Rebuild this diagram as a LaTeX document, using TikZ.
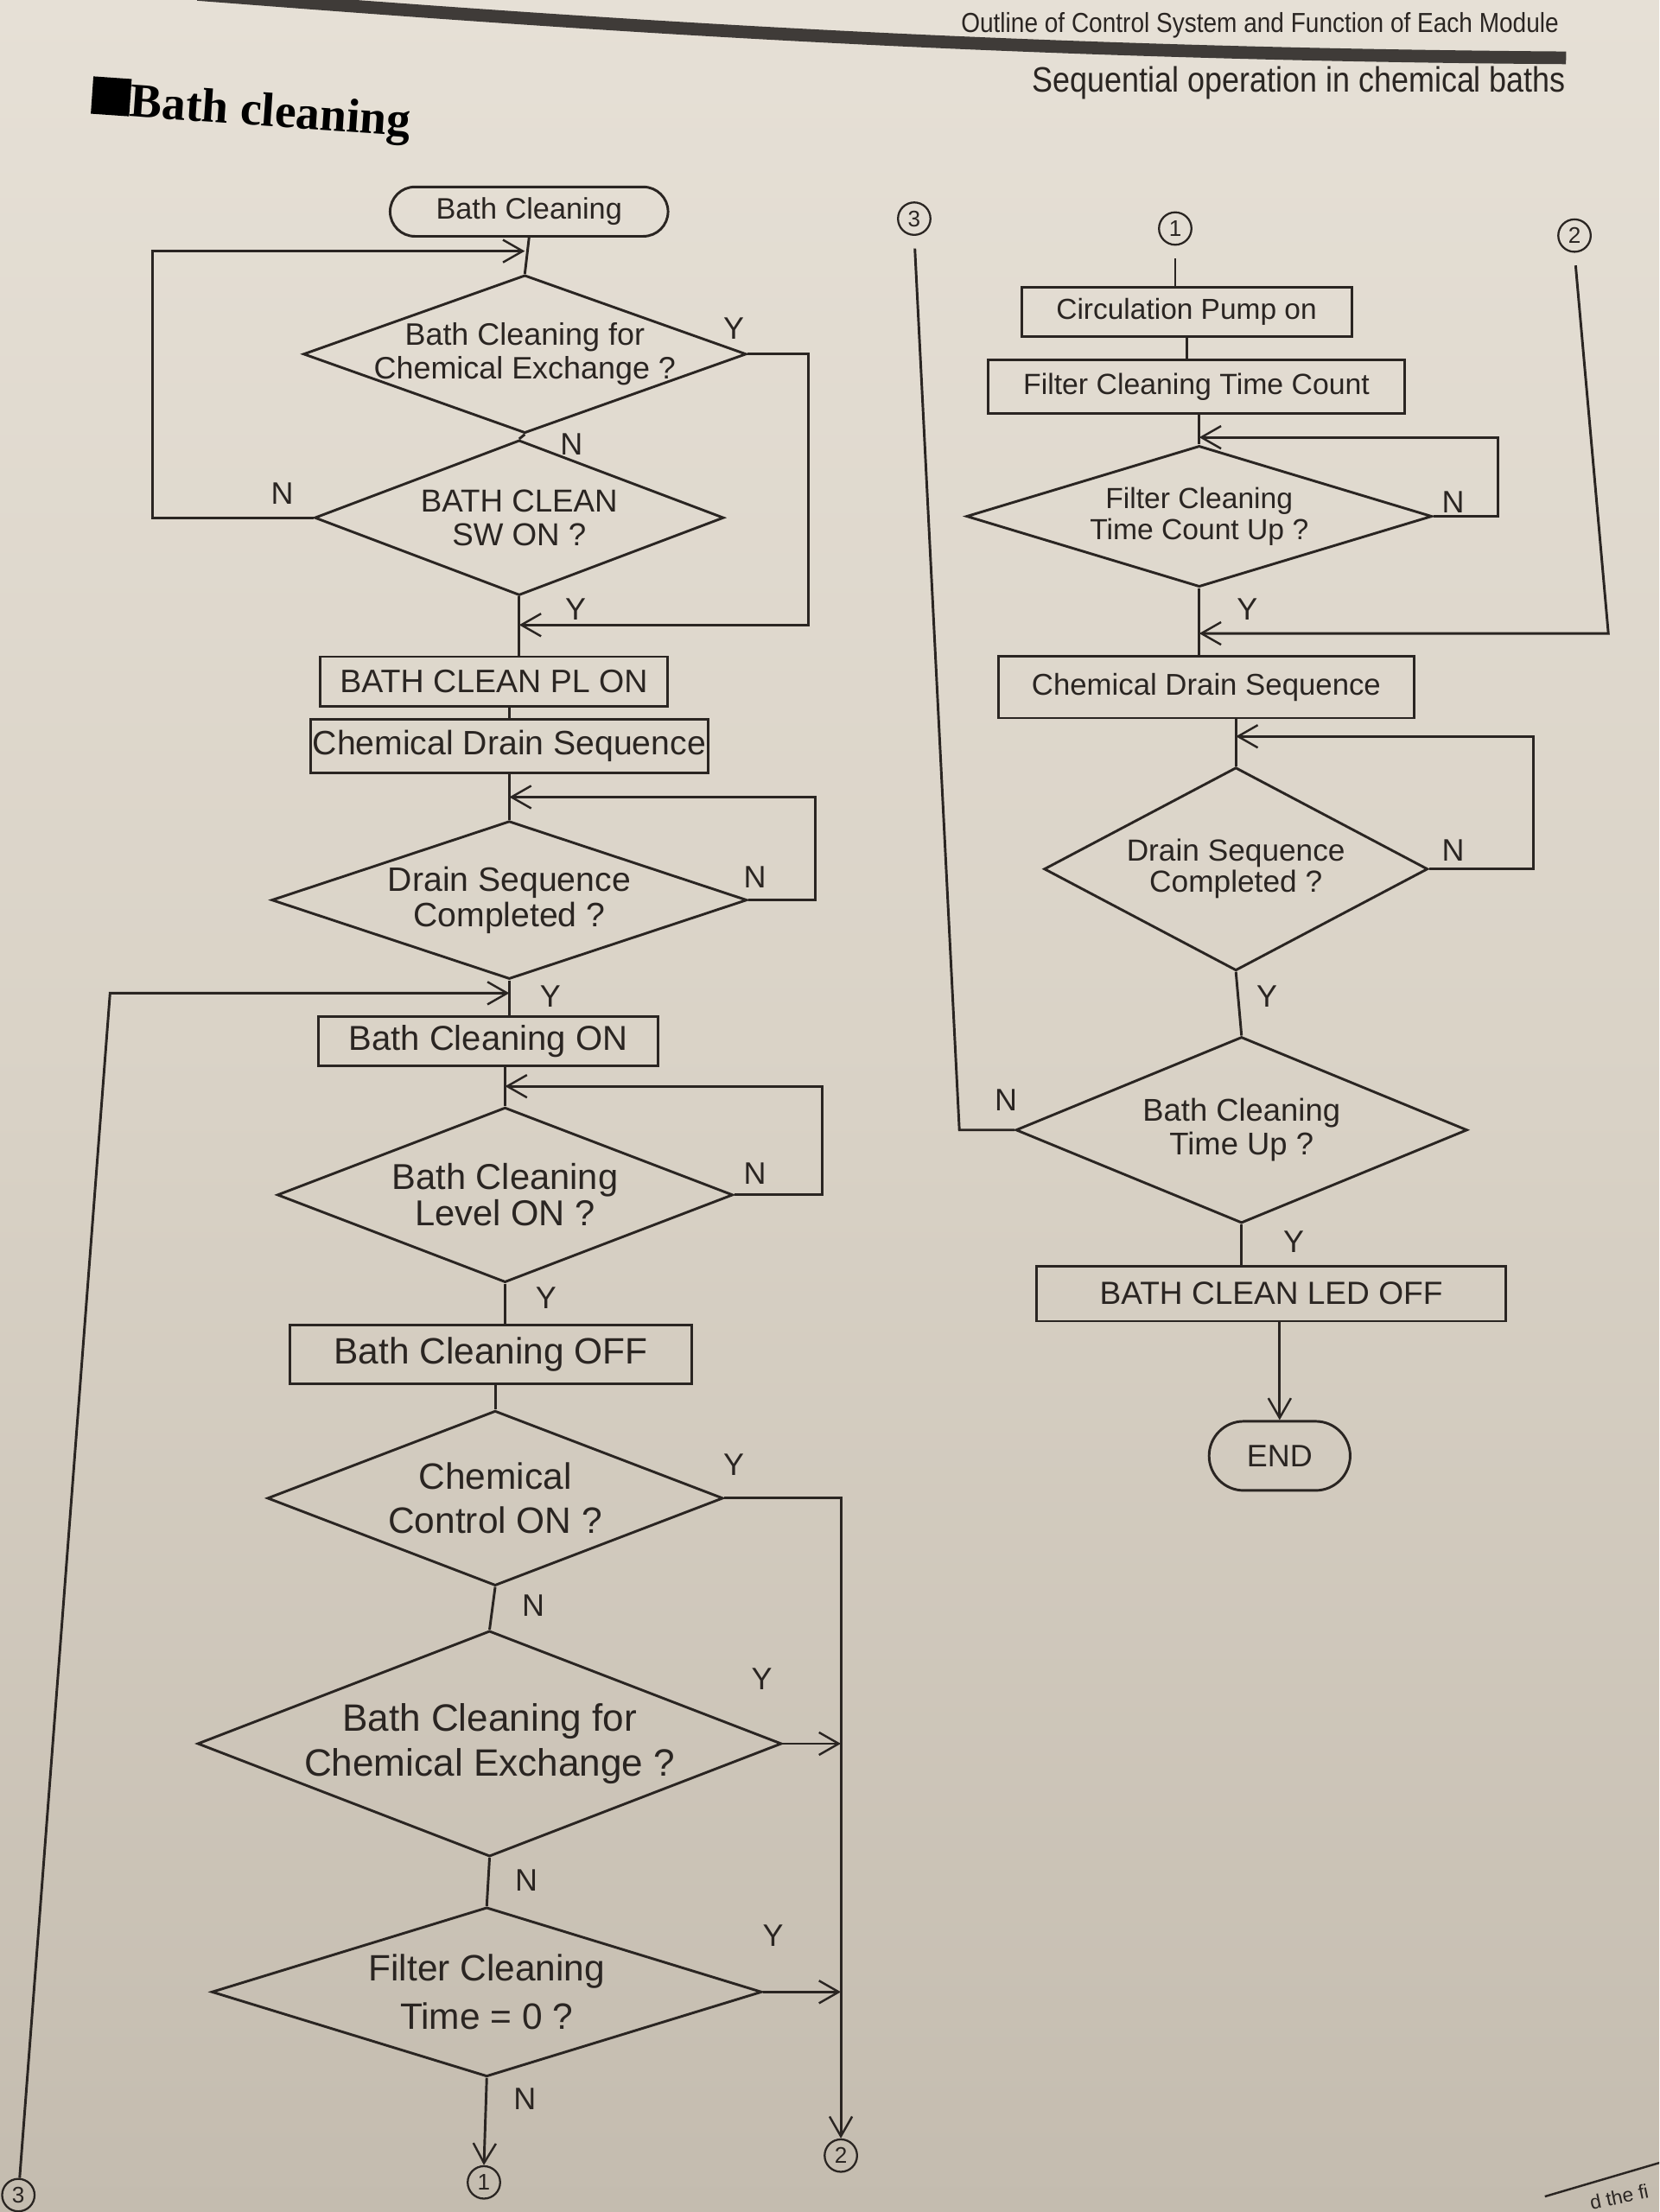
\documentclass[tikz,border=0pt]{standalone}
\usepackage{fontspec}
\setmainfont{Liberation Sans}
\newfontfamily\headserif{Liberation Serif}
\newfontfamily\narrowsans[FakeStretch=0.88]{Liberation Sans}
\usetikzlibrary{shapes.geometric,shapes.misc,arrows.meta}
\definecolor{ink}{HTML}{2A2522}
\definecolor{paperTop}{HTML}{E6E0D6}
\definecolor{paperMid}{HTML}{D9D2C6}
\definecolor{paperBot}{HTML}{C4BCAF}
\definecolor{bandcol}{HTML}{3F3B38}
\newcommand\myfs[2]{\fontsize{#1}{#2}\selectfont}
\tikzset{
  ln/.style={draw=ink, line width=1.8pt},
  arr/.style={ln, -{Straight Barb[length=14pt,width=16pt,line width=1.5pt]}},
  box/.style={draw=ink, line width=1.8pt, rectangle, inner sep=0pt, text=ink},
  dia/.style={draw=ink, line width=1.8pt, diamond, inner sep=0pt},
  dtx/.style={align=center, text=ink, inner sep=0pt},
  term/.style={draw=ink, line width=1.8pt, rounded rectangle, inner sep=0pt, text=ink},
  conn/.style={draw=ink, line width=1.4pt, circle, inner sep=0pt, minimum size=23pt, font=\myfs{16}{16}, text=ink},
  yn/.style={text=ink, font=\myfs{22}{22}, inner sep=0pt},
}
\begin{document}
\begin{tikzpicture}[x=1pt,y=-1pt]
\useasboundingbox (0,0) rectangle (1176,1568);
\clip (0,0) rectangle (1176,1568);
\shade[top color=paperTop, bottom color=paperBot, middle color=paperMid] (0,0) rectangle (1176,1568);

% ---------- page header ----------
\draw[bandcol, line width=9pt] (140,-4) .. controls (400,16) and (700,38) .. (1110,41);
\node[text=ink, font=\narrowsans\myfs{19.5}{20}, anchor=east, inner sep=0pt] (hdr1) at (1105,18) {Outline of Control System and Function of Each Module};
\node[text=ink, font=\narrowsans\myfs{25}{25}, anchor=east, inner sep=0pt] (hdr2) at (1110,59) {Sequential operation in chemical baths};
\node[text=black, font=\headserif\bfseries\myfs{34}{34}, rotate=-4, inner sep=0pt] (title) at (178,79) {\rule{0.8em}{0.78em}Bath cleaning};

% ---------- left column ----------
\node[term, minimum width=197pt, minimum height=35pt, font=\myfs{21}{21}] (start) at (375,150) {Bath Cleaning};
\node[dia, minimum width=314pt, minimum height=112pt, label={[dtx,font=\myfs{22}{24}]center:{Bath Cleaning for\\Chemical Exchange ?}}] (d1) at (372,251) {};
\node[dia, minimum width=290pt, minimum height=110pt, label={[dtx,font=\myfs{22.5}{24}]center:{BATH CLEAN\\SW ON ?}}] (d2) at (368,367) {};
\node[box, minimum width=246pt, minimum height=35pt, font=\myfs{23}{23}] (b1) at (350,483) {BATH CLEAN PL ON};
\node[box, minimum width=282pt, minimum height=38pt, font=\myfs{24}{24}] (b2) at (361,529) {Chemical Drain Sequence};
\node[dia, minimum width=337pt, minimum height=112pt, label={[dtx,font=\myfs{24}{25}]center:{Drain Sequence\\Completed ?}}] (d3) at (361,638) {};
\node[box, minimum width=241pt, minimum height=35pt, font=\myfs{24.5}{24.5}] (b3) at (346,738) {Bath Cleaning ON};
\node[dia, minimum width=323pt, minimum height=124pt, label={[dtx,font=\myfs{25.5}{26}]center:{Bath Cleaning\\Level ON ?}}] (d4) at (358,847) {};
\node[box, minimum width=285pt, minimum height=42pt, font=\myfs{26}{26}] (b4) at (348,960) {Bath Cleaning OFF};
\node[dia, minimum width=323pt, minimum height=124pt, label={[dtx,font=\myfs{26}{31}]center:{Chemical\\Control ON ?}}] (d5) at (351,1062) {};
\node[dia, minimum width=414pt, minimum height=160pt, label={[dtx,font=\myfs{27}{32}]center:{Bath Cleaning for\\Chemical Exchange ?}}] (d6) at (347,1236) {};
\node[dia, minimum width=390pt, minimum height=120pt, label={[dtx,font=\myfs{26}{34}]center:{Filter Cleaning\\Time = 0 ?}}] (d7) at (345,1412) {};
\node[conn] (c1b) at (343,1547) {1};
\node[conn] (c2b) at (596,1528) {2};
\node[conn] (c3b) at (13,1556) {3};

% ---------- right column ----------
\node[conn] (c3t) at (648,155) {3};
\node[conn] (c1t) at (833,162) {1};
\node[conn] (c2t) at (1116,167) {2};
\node[box, minimum width=234pt, minimum height=35pt, font=\myfs{20.5}{20.5}] (b5) at (841,221) {Circulation Pump on};
\node[box, minimum width=295pt, minimum height=38pt, font=\myfs{20.7}{20.7}] (b6) at (848,274) {Filter Cleaning Time Count};
\node[dia, minimum width=330pt, minimum height=100pt, label={[dtx,font=\myfs{20.6}{22}]center:{Filter Cleaning\\Time Count Up ?}}] (d9) at (850,366) {};
\node[box, minimum width=295pt, minimum height=44pt, font=\myfs{21.3}{21.3}] (b7) at (855,487) {Chemical Drain Sequence};
\node[dia, minimum width=272pt, minimum height=144pt, label={[dtx,font=\myfs{21.6}{22}]center:{Drain Sequence\\Completed ?}}] (d10) at (876,616) {};
\node[dia, minimum width=320pt, minimum height=132pt, label={[dtx,font=\myfs{22.3}{24}]center:{Bath Cleaning\\Time Up ?}}] (d8) at (880,801) {};
\node[box, minimum width=333pt, minimum height=39pt, font=\myfs{22.7}{22.7}] (b8) at (901,917) {BATH CLEAN LED OFF};
\node[term, minimum width=100pt, minimum height=49pt, font=\myfs{22}{22}] (end) at (907,1032) {END};

% ---------- coordinates ----------
\coordinate (lA) at (108,178);
\coordinate (rA) at (573,443);
\coordinate (r3) at (578,565);
\coordinate (L1) at (78,704);
\coordinate (r4) at (583,770);
\coordinate (R1) at (596,1062);
\coordinate (r9) at (1062,310);
\coordinate (t2) at (1140,449);
\coordinate (r10) at (1087,522);
\coordinate (t3) at (680,801);

% ---------- left connectors ----------
\draw[ln] (start.south) -- (d1.north);
\draw[ln] (d1.south) -- (d2.north);
\draw[arr] (d2.west) -| (lA) -- (d1.north |- lA);
\draw[arr] (d1.east) -| (rA) -- (d2.south |- rA);
\draw[ln] (d2.south) -- (d2.south |- b1.north);
\draw[ln] (b1.south -| b2.north) -- (b2.north);
\draw[ln] (b2.south) -- (d3.north);
\draw[arr] (d3.east) -| (r3) -- (d3.north |- r3);
\draw[ln] (d3.south) -- (d3.south |- b3.north);
\draw[arr] (c3b) -- (L1) -- (d3.south |- L1);
\draw[ln] (b3.south -| d4.north) -- (d4.north);
\draw[arr] (d4.east) -| (r4) -- (d4.north |- r4);
\draw[ln] (d4.south) -- (d4.south |- b4.north);
\draw[ln] (b4.south -| d5.north) -- (d5.north);
\draw[ln] (d5.south) -- (d6.north);
\draw[ln] (d6.south) -- (d7.north);
\draw[arr] (d7.south) -- (c1b.north);
\draw[arr] (d5.east) -- (R1) -- (c2b.north);
\draw[arr] (d6.east) -- (d6.east -| R1);
\draw[arr] (d7.east) -- (d7.east -| R1);

% ---------- right connectors ----------
\draw[ln, shorten <=9pt] (c1t.south) -- (c1t.south |- b5.north);
\draw[ln] (b5.south) -- (b5.south |- b6.north);
\draw[ln] (b6.south -| d9.north) -- (d9.north);
\draw[arr] (d9.east) -| (r9) -- (d9.north |- r9);
\draw[ln] (d9.south) -- (d9.south |- b7.north);
\draw[arr, shorten <=9pt] (c2t.south) -- (t2) -- (d9.south |- t2);
\draw[ln] (b7.south -| d10.north) -- (d10.north);
\draw[arr] (d10.east) -| (r10) -- (d10.north |- r10);
\draw[ln] (d10.south) -- (d8.north);
\draw[ln, shorten <=9pt] (c3t.south) -- (t3) -- (d8.west);
\draw[ln] (d8.south) -- (d8.south |- b8.north);
\draw[arr] (b8.south -| end.north) -- (end.north);

% ---------- Y / N labels ----------
\node[yn] (y1) at (520,233) {Y};
\node[yn] (n1) at (405,315) {N};
\node[yn] (n2) at (200,350) {N};
\node[yn] (y2) at (408,432) {Y};
\node[yn] (n3) at (535,622) {N};
\node[yn] (y3) at (390,706) {Y};
\node[yn] (n4) at (535,832) {N};
\node[yn] (y4) at (387,920) {Y};
\node[yn] (y5) at (520,1038) {Y};
\node[yn] (n5) at (378,1138) {N};
\node[yn] (y6) at (540,1190) {Y};
\node[yn] (n6) at (373,1333) {N};
\node[yn] (y7) at (548,1372) {Y};
\node[yn] (n7) at (372,1488) {N};
\node[yn] (n8) at (1030,356) {N};
\node[yn] (y8) at (884,432) {Y};
\node[yn] (n9) at (1030,603) {N};
\node[yn] (y9) at (898,706) {Y};
\node[yn] (n10) at (713,780) {N};
\node[yn] (y10) at (917,880) {Y};

% ---------- page edge at bottom right ----------
\draw[ink, line width=1.5pt] (1095,1557) -- (1180,1532);
\node[text=ink, font=\myfs{14}{14}, anchor=south west, inner sep=0pt, rotate=12] (nextp) at (1128,1567) {d the fi};
\end{tikzpicture}
\end{document}
